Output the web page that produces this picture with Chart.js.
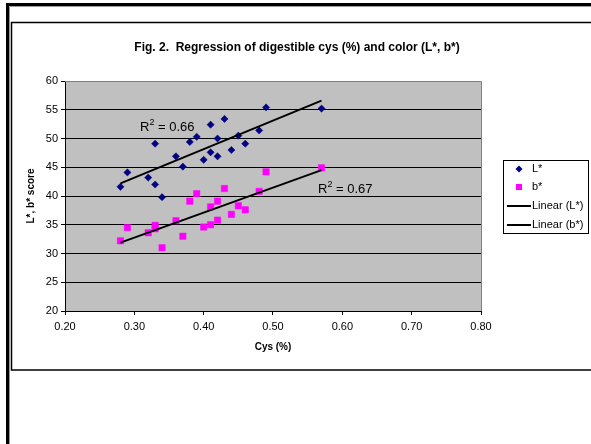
<!DOCTYPE html>
<html>
<head>
<meta charset="utf-8">
<script src="https://cdn.jsdelivr.net/npm/chart.js@4.4.0/dist/chart.umd.min.js"></script>
<style>
html,body{margin:0;padding:0;background:#fff;}
#c{display:block;}
</style>
</head>
<body>
<canvas id="c" width="591" height="444"></canvas>
<script>
// ---- data ----
const cysL = [0.28,0.29,0.33,0.32,0.33,0.34,0.36,0.37,0.38,0.39,0.40,0.41,0.41,0.42,0.42,0.43,0.44,0.45,0.46,0.48,0.49,0.57];
const lScore = [41.6,44.1,49.1,43.2,42.0,39.8,46.9,45.1,49.4,50.3,46.3,52.4,47.6,50.0,46.9,53.4,48.0,50.5,49.1,51.4,55.4,55.2];
const cysB = [0.28,0.29,0.32,0.33,0.33,0.34,0.36,0.37,0.38,0.39,0.40,0.41,0.41,0.42,0.42,0.43,0.44,0.45,0.46,0.48,0.49,0.57];
const bScore = [32.2,34.5,33.6,34.9,34.3,31.0,35.7,33.0,39.1,40.4,34.6,38.1,35.0,39.1,35.8,41.3,36.8,38.3,37.6,40.8,44.2,44.9];
const xTicks = [0.20,0.30,0.40,0.50,0.60,0.70,0.80];
const yTicks = [20,25,30,35,40,45,50,55,60];
const r2Labels = ["0.66","0.67"];
const legendNames = ["L*","b*","Linear (L*)","Linear (b*)"];
const titleText = "Fig. 2.  Regression of digestible cys (%) and color (L*, b*)";
const xTitle = "Cys (%)";
const yTitle = "L*, b* score";

function fit(xs, ys){
  const n = xs.length;
  let sx=0, sy=0, sxx=0, sxy=0;
  for(let i=0;i<n;i++){sx+=xs[i];sy+=ys[i];sxx+=xs[i]*xs[i];sxy+=xs[i]*ys[i];}
  const m=(n*sxy-sx*sy)/(n*sxx-sx*sx);
  const b=(sy-m*sx)/n;
  const x0=Math.min(...xs), x1=Math.max(...xs);
  return [{x:x0,y:m*x0+b},{x:x1,y:m*x1+b}];
}
const pts = (xs,ys)=>xs.map((x,i)=>({x:x,y:ys[i]}));

const FONT = "'Liberation Sans', Arial, sans-serif";
const NAVY = "#000080", MAG = "#FF00FF";

const framePlugin = {
  id:'frame',
  beforeDraw(chart){
    const ctx = chart.ctx, a = chart.chartArea;
    ctx.save();
    ctx.fillStyle='#fff'; ctx.fillRect(0,0,chart.width,chart.height);
    ctx.strokeStyle='#000'; ctx.lineWidth=3;
    ctx.strokeRect(7.5,4.5,600,460);
    ctx.strokeStyle='#999'; ctx.lineWidth=1;
    ctx.beginPath(); ctx.moveTo(9.5,6.5); ctx.lineTo(9.5,444); ctx.moveTo(9.5,6.5); ctx.lineTo(591,6.5); ctx.stroke();
    ctx.strokeStyle='#000'; ctx.lineWidth=1.5;
    ctx.strokeRect(11.5,22.5,600,347.5);
    ctx.fillStyle='#C0C0C0';
    ctx.fillRect(a.left,a.top,a.right-a.left,a.bottom-a.top);
    ctx.restore();
  },
  afterDraw(chart){
    const ctx = chart.ctx, a = chart.chartArea;
    ctx.save();
    ctx.fillStyle='#000';
    ctx.font="bold 12px "+FONT;
    ctx.textAlign='center'; ctx.textBaseline='middle';
    ctx.fillText(titleText, 297, 48);
    ctx.font="bold 10px "+FONT;
    ctx.fillText(xTitle,(a.left+a.right)/2,347);
    ctx.save();
    ctx.translate(31,(a.top+a.bottom)/2);
    ctx.rotate(-Math.PI/2);
    ctx.fillText(yTitle,0,0);
    ctx.restore();
    function r2(txt,x,y){
      ctx.textAlign='left'; ctx.textBaseline='alphabetic';
      ctx.font="13px "+FONT;
      ctx.fillText("R",x,y);
      let w=ctx.measureText("R").width;
      ctx.font="9px "+FONT;
      ctx.fillText("2",x+w,y-6);
      w+=ctx.measureText("2").width;
      ctx.font="13px "+FONT;
      ctx.fillText(" = "+txt,x+w,y);
    }
    r2(r2Labels[0],140,131);
    r2(r2Labels[1],318,193);
    ctx.fillStyle='#fff'; ctx.fillRect(503.5,160.5,85,73);
    ctx.strokeStyle='#000'; ctx.lineWidth=1;
    ctx.strokeRect(503.5,160.5,85,73);
    ctx.font="11px "+FONT; ctx.textAlign='left'; ctx.textBaseline='middle';
    const rows=[169,187,206,225];
    ctx.fillStyle=NAVY;
    ctx.beginPath(); ctx.moveTo(519,rows[0]-3.5); ctx.lineTo(522.5,rows[0]); ctx.lineTo(519,rows[0]+3.5); ctx.lineTo(515.5,rows[0]); ctx.closePath(); ctx.fill();
    ctx.fillStyle=MAG; ctx.fillRect(516,rows[1]-3,6,6);
    ctx.strokeStyle='#000'; ctx.lineWidth=2;
    ctx.beginPath(); ctx.moveTo(507,rows[2]); ctx.lineTo(531,rows[2]); ctx.moveTo(507,rows[3]); ctx.lineTo(531,rows[3]); ctx.stroke();
    ctx.fillStyle='#000';
    for(let i=0;i<4;i++) ctx.fillText(legendNames[i],532,rows[i]);
    ctx.restore();
  },
  beforeDatasetsDraw(chart){
    const ctx=chart.ctx,a=chart.chartArea;
    ctx.save();
    ctx.strokeStyle='#808080'; ctx.lineWidth=1;
    ctx.beginPath();
    ctx.moveTo(a.left,a.top+0.5); ctx.lineTo(a.right+0.5,a.top+0.5);
    ctx.lineTo(a.right+0.5,a.bottom); ctx.stroke();
    ctx.restore();
  }
};

new Chart(document.getElementById('c'),{
  type:'scatter',
  data:{datasets:[
    {label:legendNames[2],type:'line',data:fit(cysL,lScore),borderColor:'#000',borderWidth:2,pointRadius:0,fill:false,order:0},
    {label:legendNames[3],type:'line',data:fit(cysB,bScore),borderColor:'#000',borderWidth:2,pointRadius:0,fill:false,order:0},
    {label:legendNames[0],data:pts(cysL,lScore),pointStyle:'rectRot',pointRadius:3.6,backgroundColor:NAVY,borderColor:NAVY,borderWidth:0.5,order:1},
    {label:legendNames[1],data:pts(cysB,bScore),pointStyle:'rect',pointRadius:4.5,backgroundColor:MAG,borderColor:MAG,borderWidth:0.5,order:1}
  ]},
  options:{
    responsive:false,animation:false,
    layout:{padding:{left:0,right:110,top:81,bottom:93}},
    plugins:{legend:{display:false},tooltip:{enabled:false},title:{display:false}},
    scales:{
      x:{type:'linear',min:0.2,max:0.8,
        afterBuildTicks(s){s.ticks=xTicks.map(v=>({value:v}));},
        afterFit(s){s.height=40;},
        ticks:{color:'#000',font:{family:FONT,size:11},padding:5,callback:v=>v.toFixed(2),maxRotation:0},
        grid:{drawOnChartArea:false,drawTicks:true,tickLength:4,color:'#000'},
        border:{display:true,color:'#000',width:1}
      },
      y:{type:'linear',min:20,max:60,
        afterBuildTicks(s){s.ticks=yTicks.map(v=>({value:v}));},
        afterFit(s){s.width=65;},
        ticks:{color:'#000',font:{family:FONT,size:11},padding:3},
        grid:{drawOnChartArea:true,drawTicks:true,tickLength:4,color:'#000',lineWidth:1},
        border:{display:true,color:'#000',width:1}
      }
    }
  },
  plugins:[framePlugin]
});
</script>
</body>
</html>
